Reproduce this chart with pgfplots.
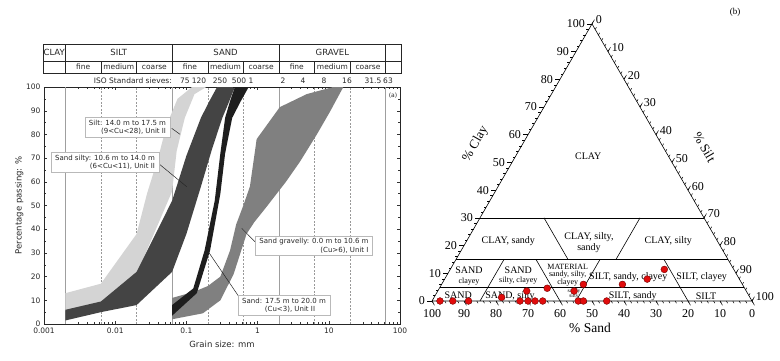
\documentclass[border=0pt]{standalone}
\usepackage{pgfplots}
\pgfplotsset{compat=1.18}
\usepackage{fontspec}
\setmainfont{DejaVu Sans}
\newfontfamily\tms{Liberation Serif}
\definecolor{bandlight}{RGB}{212,212,212}
\definecolor{banddark}{RGB}{68,68,68}
\definecolor{bandblack}{RGB}{30,30,30}
\definecolor{bandmid}{RGB}{128,128,128}
\definecolor{txt}{RGB}{40,40,40}
\definecolor{ptred}{RGB}{225,12,12}
\newcommand{\fs}[2]{\fontsize{#1}{#2}\selectfont}
\begin{document}
\begin{tikzpicture}
\useasboundingbox (0,0) rectangle (780pt,360pt);
\fill[white] (0,0) rectangle (780pt,360pt);
% ---------------- left panel ----------------
\begin{axis}[
  at={(44pt,36pt)}, anchor=south west,
  scale only axis, width=356pt, height=237pt,
  xmode=log, xmin=0.001, xmax=100, ymin=0, ymax=100,
  xtick={0.001,0.01,0.1,1,10,100},
  xticklabels={0.001,0.01,0.1,1,10,100},
  minor xtick={0.002,0.003,0.004,0.005,0.006,0.007,0.008,0.009,0.02,0.03,0.04,0.05,0.06,0.07,0.08,0.09,0.2,0.3,0.4,0.5,0.6,0.7,0.8,0.9,2,3,4,5,6,7,8,9,20,30,40,50,60,70,80,90},
  ytick={0,10,...,100},
  minor ytick={5,15,...,95},
  tick align=inside,
  major tick length=3pt, minor tick length=1.6pt,
  tick style={black!80, line width=0.4pt},
  axis line style={black!85, line width=0.6pt},
  ticklabel style={font=\fs{7.5}{9}, text=txt},
  /pgf/number format/assume math mode=true,
  xlabel={Grain size: mm}, ylabel={Percentage passing: \%},
  label style={font=\fs{8.5}{10}, text=txt},
  ylabel shift=-4pt,
  xlabel shift=1pt,
]
% boundary lines
\addplot[gray!75, line width=0.8pt, forget plot] coordinates {(0.002,0) (0.002,100)};
\addplot[gray!75, line width=0.8pt, forget plot] coordinates {(0.063,0) (0.063,100)};
\addplot[gray!75, line width=0.8pt, forget plot] coordinates {(2,0) (2,100)};
\addplot[gray!75, line width=0.8pt, forget plot] coordinates {(63,0) (63,100)};
\addplot[gray!80, line width=0.5pt, dash pattern=on 2pt off 1.5pt, forget plot] coordinates {(0.0063,0) (0.0063,100)};
\addplot[gray!80, line width=0.5pt, dash pattern=on 2pt off 1.5pt, forget plot] coordinates {(0.02,0) (0.02,100)};
\addplot[gray!80, line width=0.5pt, dash pattern=on 2pt off 1.5pt, forget plot] coordinates {(0.2,0) (0.2,100)};
\addplot[gray!80, line width=0.5pt, dash pattern=on 2pt off 1.5pt, forget plot] coordinates {(0.63,0) (0.63,100)};
\addplot[gray!80, line width=0.5pt, dash pattern=on 2pt off 1.5pt, forget plot] coordinates {(6.3,0) (6.3,100)};
\addplot[gray!80, line width=0.5pt, dash pattern=on 2pt off 1.5pt, forget plot] coordinates {(20,0) (20,100)};
% Silt band 14.0-17.5 m
\addplot[fill=bandlight, draw=none] coordinates {
 (0.002,13) (0.0063,17) (0.02,38) (0.028,55) (0.04,70) (0.053,84) (0.075,95) (0.12,100)
 (0.19,100) (0.13,97) (0.095,87) (0.073,73) (0.063,56) (0.02,21) (0.0063,9) (0.002,5.5) (0.002,13)};
% Sand silty band 10.6-14.0 m
\addplot[fill=banddark, draw=none] coordinates {
 (0.002,6) (0.0063,9.5) (0.02,22) (0.063,52) (0.1,71) (0.16,87) (0.21,94) (0.27,100)
 (0.48,100) (0.4,94) (0.32,87) (0.23,74) (0.16,58) (0.1,38) (0.063,22) (0.02,8) (0.0063,5) (0.002,1.5) (0.002,6)};
% Sand gravelly band 0.0-10.6 m
\addplot[fill=bandmid, draw=none] coordinates {
 (0.063,11) (0.125,13.5) (0.2,16) (0.3,20) (0.41,31) (0.5,42) (0.63,50) (0.78,58) (0.97,78) (2.05,91.5) (4.9,97) (11.5,100)
 (16,100) (10.4,89.6) (6.8,80) (3.94,68.5) (2.5,60) (1.34,49.5) (0.9,43) (0.7,38) (0.46,21) (0.3,10) (0.17,4.5) (0.063,2) (0.063,11)};
% Sand band 17.5-20.0 m
\addplot[fill=bandblack, draw=none] coordinates {
 (0.063,8) (0.125,15) (0.18,31) (0.25,52) (0.3,72) (0.35,87) (0.41,94) (0.48,100)
 (0.75,100) (0.58,94) (0.44,87) (0.35,72) (0.3,55) (0.215,31) (0.14,13) (0.063,3.5) (0.063,8)};
\addplot[bandblack, line width=1.2pt] coordinates {(0.45,100) (8.5,100)};
\end{axis}
\begin{scope}[x=1pt,y=1pt]
% header table
\draw[black!85, line width=0.6pt] (43,316) rectangle (401,287);
\draw[black!85, line width=0.5pt] (43,299) -- (401,299);
\foreach \x in {65.4,172.1,279.0,385.7} \draw[black!85, line width=0.5pt] (\x,316) -- (\x,287);
\foreach \x in {100.9,136.6,207.8,243.3,314.5,350.2} \draw[black!85, line width=0.5pt] (\x,299) -- (\x,287);
\begin{scope}[every node/.style={font=\fs{8.5}{10}, text=txt, inner sep=0pt}]
\node at (54.2,307.5) {CLAY};
\node at (118.8,307.5) {SILT};
\node at (225.6,307.5) {SAND};
\node at (332.4,307.5) {GRAVEL};
\end{scope}
\begin{scope}[every node/.style={font=\fs{7.5}{9}, text=txt, inner sep=0pt}]
\foreach \x/\t in {83.2/fine,118.8/medium,154.4/coarse,190/fine,225.6/medium,261.2/coarse,296.8/fine,332.4/medium,368/coarse}
  \node at (\x,293) {\t};
\node[anchor=east] at (172,279) {ISO Standard sieves:};
\foreach \x/\t in {185/75,199/120,220/250,239/500,251/1,283/2,303/4,324/8,347/16,373/31.5,388/63}
  \node at (\x,279) {\t};
\end{scope}
\node[font=\fs{6}{7}, text=txt, inner sep=0pt] at (393,264) {(a)};
% annotation boxes
\begin{scope}[every node/.style={draw=gray!55, line width=0.5pt, fill=white, font=\fs{7}{8.4}, text=txt, inner xsep=4pt, inner ysep=2.5pt}]
\draw[black!85, line width=0.5pt] (171.7,231.7) -- (180,225.7);
\node[align=right] at (127.5,232.5) {Silt: 14.0 m to 17.5 m\\(9<Cu<28), Unit II};
\draw[black!85, line width=0.5pt] (158.3,196.7) -- (186.7,173.3);
\node[align=right] at (105,197.5) {Sand silty: 10.6 m to 14.0 m\\(6<Cu<11), Unit II};
\draw[black!85, line width=0.5pt] (255,118.3) -- (241.7,131.7);
\node[align=right] at (314,114.2) {Sand gravelly: 0.0 m to 10.6 m\\(Cu>6), Unit I};
\draw[black!85, line width=0.5pt] (240,61.7) -- (208.3,108.3);
\node[align=center] at (284,55) {Sand: 17.5 m to 20.0 m\\\hspace*{12pt}(Cu<3), Unit II};
\end{scope}
\end{scope}
% ---------------- right panel: ternary frame ----------------
\begin{scope}[shift={(432pt,59pt)}, x=3.2pt, y=2.771pt, line width=0.6pt]
\draw (0,0) -- (100,0) -- (50,100) -- cycle;
\draw (15,30) -- (85,30);
\draw (7.5,15) -- (92.5,15);
\draw (2.5,5) -- (97.5,5);
\draw (35,30) -- (42.5,15);
\draw (65,30) -- (57.5,15);
\draw (22.5,15) -- (15,0);
\draw (32.5,15) -- (40,0);
\draw (52.5,15) -- (45,0);
\draw (72.5,15) -- (80,0);
\begin{scope}[line width=0.5pt]
\foreach \c in {0,2,...,100} \draw (\c/2,\c) -- ++(-2.5pt,0pt);
\foreach \c in {0,2,...,100} \draw (50+\c/2,100-\c) -- ++(60:2.5pt);
\foreach \c in {0,2,...,100} \draw (100-\c,0) -- ++(-60:2.5pt);
\foreach \c in {0,10,...,100} {
  \draw (\c/2,\c) -- ++(-5pt,0pt);
  \draw (50+\c/2,100-\c) -- ++(60:5pt);
  \draw (100-\c,0) -- ++(-60:5pt);
  \node[anchor=east, inner sep=0pt, font=\tms\fs{12}{14}] at ([xshift=-7pt]\c/2,\c) {\c};
  \node[anchor=west, inner sep=0pt, font=\tms\fs{12}{14}] at ([xshift=3.5pt,yshift=4pt]50+\c/2,100-\c) {\c};
  \node[anchor=north, inner sep=0pt, font=\tms\fs{12}{14}] at ([yshift=-8pt]100-\c,0) {\c};
}
\end{scope}
\end{scope}
\begin{scope}[x=1pt,y=1pt, every node/.style={inner sep=0pt, text=black}]
\node[rotate=60, font=\tms\fs{13}{16}] at (475.5,216) {\% Clay};
\node[rotate=-60, font=\tms\fs{13}{16}] at (704.5,213) {\% Silt};
\node[font=\tms\fs{13.5}{16}] at (590,31.7) {\% Sand};
\node[font=\tms\fs{9}{11}] at (735,347.7) {(b)};
\begin{scope}[every node/.style={inner sep=0pt, font=\tms\fs{10}{11}}]
\node at (588.3,204) {CLAY};
\node at (508.3,119) {CLAY, sandy};
\node[align=center] at (589,117.5) {CLAY, silty,\\sandy};
\node at (668.3,119) {CLAY, silty};
\node at (469,90) {SAND};
\node at (518.3,89.3) {SAND};
\node at (628.3,82.7) {SILT, sandy, clayey};
\node at (701.7,82.7) {SILT, clayey};
\node at (458.3,65) {SAND};
\node at (510,64) {SAND, silty};
\node at (632.7,64) {SILT, sandy};
\node at (706,64) {SILT};
\end{scope}
\begin{scope}[every node/.style={inner sep=0pt, font=\tms\fs{8}{9}}]
\node at (469,78.3) {clayey};
\node at (518.3,79) {silty, clayey};
\node at (567.7,93.3) {MATERIAL};
\node at (567.7,85.2) {sandy, silty,};
\node at (567.7,77.3) {clayey};
\end{scope}
\node[font=\tms\fs{5.5}{6}] at (574,69) {sandy};
\node[font=\tms\fs{5.5}{6}] at (574,63.5) {silty};
\end{scope}
% ---------------- right panel: data points ----------------
\begin{axis}[
  at={(432pt,59pt)}, anchor=south west,
  scale only axis, width=320pt, height=277.1pt,
  xmin=0, xmax=100, ymin=0, ymax=100,
  axis lines=none, clip=false,
]
\addplot[only marks, mark=*, mark size=3.4pt,
  mark options={fill=ptred, draw=red!45!black, line width=0.4pt}]
  table[x expr={100-\thisrow{sand}-0.5*\thisrow{clay}}, y=clay] {
sand clay
97.5 0
93.5 0
88.6 0
77.6 1.3
72.5 0
68.6 3.6
70.0 0
67.8 0
65.4 0
61.7 4.6
53.8 3.6
54.3 0
52.7 0
49.7 6.0
45.4 0
37.5 6.0
28.8 7.9
21.7 11.4
};
\end{axis}
\end{tikzpicture}
\end{document}
